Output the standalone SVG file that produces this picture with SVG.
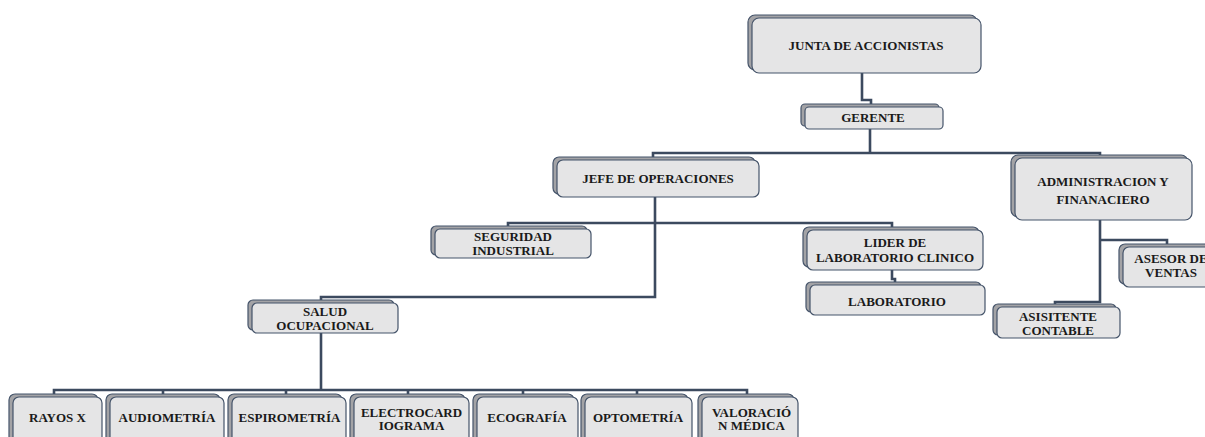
<svg xmlns="http://www.w3.org/2000/svg" width="1205" height="437" viewBox="0 0 1205 437">
<style>
.bk{fill:#a3a3a6;stroke:#45546a;stroke-width:1.2}
.fr{fill:#e5e5e6;stroke:#45546a;stroke-width:1.2}
.t{font-family:"Liberation Serif","Times New Roman",serif;font-weight:bold;font-size:13px;fill:#1a1a1a;text-anchor:middle}
.c{fill:none;stroke:#3c4a5f;stroke-width:2.6;stroke-linejoin:miter}
</style>
<rect width="1205" height="437" fill="#ffffff"/>
<g id="connectors">
<path class="c" d="M862 73V100H871V104"/>
<path class="c" d="M870 129V153"/>
<path class="c" d="M653 157V153H1100V155"/>
<path class="c" d="M655 197V297H321V300"/>
<path class="c" d="M508 226V223H892V227"/>
<path class="c" d="M892 270V279H895V282"/>
<path class="c" d="M1100 220V302H1055V304"/>
<path class="c" d="M1100 240H1167V244"/>
<path class="c" d="M321 333V390"/>
<path class="c" d="M54 394V390H747V394"/>
<path class="c" d="M163 390V394M286 390V394M408 390V394M523 390V394M637 390V394"/>
</g>
<g id="junta">
<rect class="bk" x="748" y="15" width="229" height="55" rx="7"/>
<rect class="fr" x="752" y="18" width="229" height="55" rx="7"/>
<text class="t" x="866" y="50">JUNTA DE ACCIONISTAS</text>
</g>
<g id="gerente">
<rect class="bk" x="801" y="104" width="138" height="22" rx="4"/>
<rect class="fr" x="805" y="107" width="138" height="22" rx="4"/>
<text class="t" x="873" y="122">GERENTE</text>
</g>
<g id="jefe">
<rect class="bk" x="553" y="157" width="202" height="37" rx="6"/>
<rect class="fr" x="557" y="160" width="202" height="37" rx="6"/>
<text class="t" x="658" y="183">JEFE DE OPERACIONES</text>
</g>
<g id="admin">
<rect class="bk" x="1011" y="155" width="177" height="62" rx="7"/>
<rect class="fr" x="1015" y="158" width="177" height="62" rx="7"/>
<text class="t" x="1103" y="186">ADMINISTRACION Y</text>
<text class="t" x="1103" y="204">FINANACIERO</text>
</g>
<g id="seguridad">
<rect class="bk" x="431" y="226" width="156" height="29" rx="5"/>
<rect class="fr" x="435" y="229" width="156" height="29" rx="5"/>
<text class="t" x="513" y="241">SEGURIDAD</text>
<text class="t" x="513" y="255">INDUSTRIAL</text>
</g>
<g id="lider">
<rect class="bk" x="803" y="227" width="176" height="40" rx="6"/>
<rect class="fr" x="807" y="230" width="176" height="40" rx="6"/>
<text class="t" x="895" y="246.5">LIDER DE</text>
<text class="t" x="895" y="261.5">LABORATORIO CLINICO</text>
</g>
<g id="laboratorio">
<rect class="bk" x="806" y="282" width="175" height="30" rx="5"/>
<rect class="fr" x="810" y="285" width="175" height="30" rx="5"/>
<text class="t" x="897" y="306">LABORATORIO</text>
</g>
<g id="asesor">
<rect class="bk" x="1119" y="244" width="100" height="40" rx="6"/>
<rect class="fr" x="1123" y="247" width="100" height="40" rx="6"/>
<text class="t" x="1171" y="263">ASESOR DE</text>
<text class="t" x="1171" y="277">VENTAS</text>
</g>
<g id="asistente">
<rect class="bk" x="993" y="304" width="123" height="31" rx="5"/>
<rect class="fr" x="997" y="307" width="123" height="31" rx="5"/>
<text class="t" x="1058" y="321" font-size="12.5">ASISITENTE</text>
<text class="t" x="1058" y="334.5" font-size="12.5">CONTABLE</text>
</g>
<g id="salud">
<rect class="bk" x="248" y="300" width="146" height="30" rx="5"/>
<rect class="fr" x="252" y="303" width="146" height="30" rx="5"/>
<text class="t" x="325" y="316">SALUD</text>
<text class="t" x="325" y="330">OCUPACIONAL</text>
</g>
<g id="rayos">
<rect class="bk" x="9" y="394" width="89" height="60" rx="6"/>
<rect class="fr" x="13" y="397" width="89" height="60" rx="6"/>
<text class="t" x="57.5" y="421.5">RAYOS X</text>
</g>
<g id="audiometria">
<rect class="bk" x="106" y="394" width="114" height="60" rx="6"/>
<rect class="fr" x="110" y="397" width="114" height="60" rx="6"/>
<text class="t" x="167" y="421.5">AUDIOMETRÍA</text>
</g>
<g id="espirometria">
<rect class="bk" x="228" y="394" width="114" height="60" rx="6"/>
<rect class="fr" x="232" y="397" width="114" height="60" rx="6"/>
<text class="t" x="289.5" y="421.5">ESPIROMETRÍA</text>
</g>
<g id="electrocardiograma">
<rect class="bk" x="350" y="394" width="115" height="60" rx="6"/>
<rect class="fr" x="354" y="397" width="115" height="60" rx="6"/>
<text class="t" x="411.5" y="416.5">ELECTROCARD</text>
<text class="t" x="411.5" y="430">IOGRAMA</text>
</g>
<g id="ecografia">
<rect class="bk" x="473" y="394" width="101" height="60" rx="6"/>
<rect class="fr" x="477" y="397" width="101" height="60" rx="6"/>
<text class="t" x="527" y="421.5">ECOGRAFÍA</text>
</g>
<g id="optometria">
<rect class="bk" x="581" y="394" width="107" height="60" rx="6"/>
<rect class="fr" x="585" y="397" width="107" height="60" rx="6"/>
<text class="t" x="638" y="421.5">OPTOMETRÍA</text>
</g>
<g id="valoracion">
<rect class="bk" x="698" y="394" width="96" height="60" rx="6"/>
<rect class="fr" x="702" y="397" width="96" height="60" rx="6"/>
<text class="t" x="751.5" y="416.5">VALORACIÓ</text>
<text class="t" x="751.5" y="430">N MÉDICA</text>
</g>
</svg>
